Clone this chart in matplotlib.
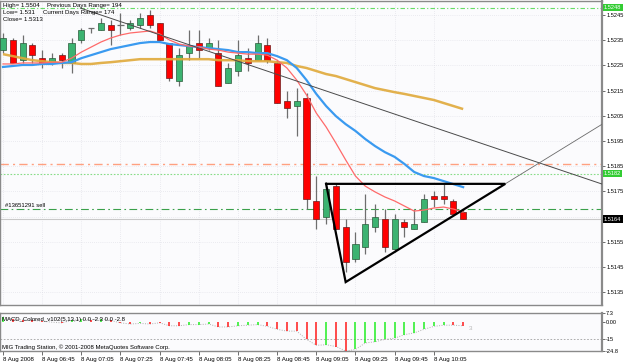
import matplotlib
matplotlib.use('Agg')
import matplotlib.pyplot as plt
import numpy as np

# ---------------- data ----------------
opens  = [1.5231, 1.5235, 1.5227, 1.5233, 1.5228, 1.5226, 1.5229, 1.5226, 1.5235, 1.5240,
          1.5239, 1.5241, 1.5241, 1.5240, 1.5241, 1.5245, 1.5242, 1.5234, 1.5219, 1.5230,
          1.5234, 1.5232, 1.5230, 1.5218, 1.5223, 1.5228, 1.5227, 1.5233, 1.5226, 1.5211,
          1.5209, 1.5212, 1.5171, 1.5165, 1.5177, 1.5161, 1.5148, 1.5153, 1.5161, 1.5164,
          1.5152, 1.5163, 1.5160, 1.5163, 1.5173, 1.5173, 1.5171, 1.5167]
highs  = [1.5238, 1.5236, 1.5237, 1.5234, 1.5231, 1.5230, 1.5230, 1.5236, 1.5240, 1.5240,
          1.5244, 1.5243, 1.5246, 1.5243, 1.5246, 1.5247, 1.5242, 1.5234, 1.5232, 1.5239,
          1.5239, 1.5236, 1.5235, 1.5226, 1.5235, 1.5232, 1.5237, 1.5236, 1.5227, 1.5215,
          1.5216, 1.5214, 1.5181, 1.5178, 1.5178, 1.5164, 1.5159, 1.5174, 1.5170, 1.5168,
          1.5166, 1.5164, 1.5168, 1.5174, 1.5175, 1.5178, 1.5172, 1.5168]
lows   = [1.5230, 1.5226, 1.5226, 1.5226, 1.5224, 1.5225, 1.5224, 1.5222, 1.5234, 1.5238,
          1.5239, 1.5233, 1.5237, 1.5239, 1.5240, 1.5240, 1.5235, 1.5219, 1.5217, 1.5227,
          1.5228, 1.5231, 1.5217, 1.5218, 1.5221, 1.5223, 1.5227, 1.5226, 1.5210, 1.5204,
          1.5197, 1.5168, 1.5160, 1.5162, 1.5160, 1.5143, 1.5147, 1.5150, 1.5159, 1.5151,
          1.5151, 1.5157, 1.5160, 1.5163, 1.5169, 1.5170, 1.5166, 1.5164]
closes = [1.5236, 1.5226, 1.5234, 1.5229, 1.5226, 1.5228, 1.5227, 1.5234, 1.5239, 1.5240,
          1.5242, 1.5239, 1.5241, 1.5242, 1.5244, 1.5241, 1.5235, 1.5220, 1.5229, 1.5233,
          1.5231, 1.5234, 1.5217, 1.5224, 1.5229, 1.5226, 1.5234, 1.5227, 1.5210, 1.5208,
          1.5211, 1.5172, 1.5164, 1.5176, 1.5160, 1.5147, 1.5154, 1.5162, 1.5165, 1.5153,
          1.5164, 1.5161, 1.5162, 1.5172, 1.5172, 1.5172, 1.5166, 1.5164]

ma_fast = [1.52256, 1.52256, 1.52260, 1.52260, 1.52260, 1.52263, 1.52263, 1.52279, 1.52303, 1.52323,
           1.52343, 1.52359, 1.52371, 1.52379, 1.52383, 1.52387, 1.52375, 1.52351, 1.52335, 1.52327,
           1.52323, 1.52315, 1.52311, 1.52303, 1.52299, 1.52295, 1.52295, 1.52291, 1.52271, 1.52240,
           1.52192, 1.52133, 1.52061, 1.52006, 1.51942, 1.51875, 1.51811, 1.51771, 1.51748, 1.51728,
           1.51712, 1.51692, 1.51672, 1.51676, 1.51684, 1.51688, 1.51680, 1.51668]
ma_mid  = [1.52244, 1.52248, 1.52252, 1.52252, 1.52256, 1.52256, 1.52260, 1.52263, 1.52279, 1.52291,
           1.52303, 1.52315, 1.52323, 1.52331, 1.52339, 1.52343, 1.52343, 1.52335, 1.52331, 1.52327,
           1.52323, 1.52319, 1.52315, 1.52311, 1.52303, 1.52303, 1.52299, 1.52299, 1.52287, 1.52271,
           1.52240, 1.52192, 1.52137, 1.52089, 1.52049, 1.52017, 1.51990, 1.51958, 1.51930, 1.51906,
           1.51887, 1.51859, 1.51827, 1.51811, 1.51803, 1.51791, 1.51779, 1.51767]
ma_slow = [1.52295, 1.52287, 1.52279, 1.52271, 1.52267, 1.52263, 1.52260, 1.52260, 1.52256, 1.52256,
           1.52260, 1.52263, 1.52267, 1.52271, 1.52275, 1.52275, 1.52275, 1.52275, 1.52275, 1.52275,
           1.52275, 1.52275, 1.52271, 1.52271, 1.52271, 1.52267, 1.52267, 1.52267, 1.52263, 1.52260,
           1.52248, 1.52240, 1.52228, 1.52216, 1.52208, 1.52196, 1.52184, 1.52172, 1.52160, 1.52152,
           1.52144, 1.52137, 1.52129, 1.52121, 1.52113, 1.52101, 1.52089, 1.52077]

macd_vals = [4.0, 2.0, 1.5, 1.0, 0.5, -0.5, -1.0, 1.0, 2.0, 1.5,
             2.5, 1.0, -1.0, -2.0, -1.5, -2.0, -1.0, -3.5, -3.5, -2.5,
             -2.5, -2.0, -4.5, -4.5, -3.5, -3.0, -2.5, -4.0, -6.5, -8.0,
             -8.0, -15.0, -20.0, -19.5, -21.0, -24.8, -23.5, -18.0, -17.0, -15.0,
             -14.0, -11.0, -9.5, -6.5, -4.0, -3.0, -3.0, -3.5]
macd_up   = [1, 0, 0, 0, 0, 0, 0, 1, 1, 0,
             1, 0, 0, 0, 1, 0, 0, 0, 0, 1,
             1, 1, 0, 0, 1, 1, 1, 0, 0, 0,
             0, 0, 0, 1, 0, 0, 1, 1, 1, 1,
             1, 1, 1, 1, 1, 1, 0, 0]

time_label_bars = [0, 4, 8, 12, 16, 20, 24, 28, 32, 36, 40, 44]
time_labels = ["8 Aug 2008", "8 Aug 06:45", "8 Aug 07:05", "8 Aug 07:25", "8 Aug 07:45",
               "8 Aug 08:05", "8 Aug 08:25", "8 Aug 08:45", "8 Aug 09:05", "8 Aug 09:25",
               "8 Aug 09:45", "8 Aug 10:05"]
price_ticks = [1.5245, 1.5235, 1.5225, 1.5215, 1.5205, 1.5195, 1.5185, 1.5175,
               1.5165, 1.5155, 1.5145, 1.5135]
price_tick_labels = ["1.5245", "1.5235", "1.5225", "1.5215", "1.5205", "1.5195", "1.5185",
                     "1.5175", "", "1.5155", "1.5145", "1.5135"]

level_top = 1.5248
level_salmon = 1.5186
level_green_dot = 1.5182
level_order = 1.5168
level_bid = 1.5164

trend_x = [7.9, 61.2]
trend_y = [1.52478, 1.51779]
tri_x = [33.0, 35.0, 51.3, 33.0]
tri_y = [1.5178, 1.5139, 1.5178, 1.5178]
ext_x = [51.3, 61.2]
ext_y = [1.5178, 1.52017]

macd_ticks = [7.3, 0.0, -15.0, -24.8]
macd_tick_labels = ["7.3", "0.00", "-15", "-24.8"]

# ---------------- layout ----------------
W, H = 625, 363
FONT = 'Liberation Sans'
plt.rcParams['font.family'] = [FONT, 'DejaVu Sans']
LS = 4.1  # axis label size

def rect(x0, y0, x1, y1):
    return [x0 / W, 1 - y1 / H, (x1 - x0) / W, (y1 - y0) / H]

fig = plt.figure(figsize=(W / 100, H / 100), dpi=100, facecolor='white')
ax = fig.add_axes(rect(0, 1, 602, 305))
axm = fig.add_axes(rect(0, 313, 602, 351), sharex=ax)

bg = '#FBFBFD'
for a in (ax, axm):
    a.set_facecolor(bg)
    for s in a.spines.values():
        s.set_color('#8a8a8a')
        s.set_linewidth(1.0)
    a.spines['right'].set_linewidth(1.6)

n = len(opens)
x = np.arange(n)
o = np.array(opens); c = np.array(closes); h = np.array(highs); l = np.array(lows)

ax.set_xlim(-0.306, 61.18)
ax.set_ylim(1.51299, 1.52506)

ax.set_yticks(price_ticks)
ax.set_yticklabels(price_tick_labels)
ax.yaxis.tick_right()
ax.tick_params(axis='y', length=2, width=0.6, color='#555555', pad=1.0, labelsize=LS)
ax.tick_params(axis='x', length=0, labelbottom=False)
ax.set_xticks(time_label_bars)
ax.grid(True, color='#dcdce4', linestyle=(0, (1, 2)), linewidth=0.5)
ax.set_axisbelow(True)

# wicks
ax.vlines(x, l, h, color='#6e6e6e', linewidth=0.9, zorder=2)
# bodies
up = c > o
down = c < o
doji = c == o
bw = 0.62
ax.bar(x[up], (c - o)[up], bottom=o[up], width=bw, color='#3cb371',
       edgecolor='#2a5a3a', linewidth=0.5, zorder=3)
ax.bar(x[down], (o - c)[down], bottom=c[down], width=bw, color='#ff0000',
       edgecolor='#6a1a1a', linewidth=0.5, zorder=3)
ax.hlines(o[doji], x[doji] - bw / 2, x[doji] + bw / 2, color='#6e6e6e', linewidth=0.9, zorder=3)

# moving averages
ax.plot(x, ma_slow, color='#e0a93a', linewidth=1.8, alpha=0.9, zorder=4, solid_capstyle='butt')
ax.plot(x, ma_mid, color='#3a9af0', linewidth=1.6, zorder=4.1)
ax.plot(x, ma_fast, color='#ff6a6a', linewidth=0.9, zorder=4.2)

# horizontal levels
ax.axhline(level_top, color='#66dd66', linewidth=0.8, linestyle=(0, (4, 2, 1, 2)), zorder=1.5)
ax.axhline(level_salmon, color='#ffa080', linewidth=1.0, linestyle=(0, (6, 3, 1.5, 3)), zorder=1.5)
ax.axhline(level_green_dot, color='#88dd88', linewidth=0.8, linestyle=(0, (1.5, 1.5)), zorder=1.5)
ax.axhline(level_order, color='#3aa04a', linewidth=0.8, linestyle=(0, (7, 3, 1.5, 3)), zorder=1.5)
ax.axhline(level_bid, color='#c8c8c8', linewidth=0.8, zorder=1.5)

# trend lines
ax.plot(trend_x, trend_y, color='#4a4a4a', linewidth=0.7, zorder=5)
ax.plot(ext_x, ext_y, color='#6a6a6a', linewidth=0.6, zorder=5)
ax.plot(tri_x, tri_y, color='black', linewidth=1.6, zorder=6, solid_joinstyle='miter')

# right-side price boxes
def price_box(val, fc, tc):
    ax.annotate(f"{val:.4f}", xy=(1.0, val), xycoords=('axes fraction', 'data'),
                xytext=(2, 0), textcoords='offset pixels', ha='left', va='center',
                fontsize=LS, color=tc, annotation_clip=False, zorder=10,
                bbox=dict(boxstyle='square,pad=0.2', fc=fc, ec='none'))

price_box(level_top, '#33cc33', 'white')
price_box(level_green_dot, '#33cc33', 'white')
price_box(level_bid, 'black', 'white')

# info texts
txt_kw = dict(xycoords='axes fraction', textcoords='offset pixels', fontsize=4.4,
              color='black', ha='left', va='center', zorder=11)
ax.annotate("High= 1.5504", xy=(0, 1), xytext=(3, -4), **txt_kw)
ax.annotate("Previous Days Range= 194", xy=(0, 1), xytext=(47, -4), **txt_kw)
ax.annotate("Low= 1.531", xy=(0, 1), xytext=(3, -11.5), **txt_kw)
ax.annotate("Current Days Range= 174", xy=(0, 1), xytext=(43, -11.5), **txt_kw)
ax.annotate("Close= 1.5313", xy=(0, 1), xytext=(3, -18.5), **txt_kw)
ax.annotate("#13651291 sell", xy=(0, level_order), xycoords=('axes fraction', 'data'),
            xytext=(5, 4), textcoords='offset pixels', fontsize=4.2, ha='left',
            va='center', color='black', zorder=11)

# ---------------- MACD panel ----------------
mv = np.array(macd_vals)
mu = np.array(macd_up, dtype=bool)
axm.set_ylim(-24.8, 7.3)
axm.vlines(x[mu], 0, mv[mu], color='#22ee22', linewidth=1.1, zorder=3)
axm.vlines(x[~mu], 0, mv[~mu], color='#ff1a1a', linewidth=1.1, zorder=3)
axm.plot(x, mv, color='#b0b0b0', linewidth=0.7, linestyle=(0, (1, 1.5)), zorder=2)
axm.axhline(-15, color='#a0a0a0', linewidth=0.6, linestyle=(0, (2, 2)), zorder=1)
axm.set_yticks(macd_ticks)
tl = axm.set_yticklabels(macd_tick_labels)
tl[0].set_va('top')
tl[3].set_va('bottom')
axm.yaxis.tick_right()
axm.tick_params(axis='y', length=2, width=0.6, color='#555555', pad=1.0, labelsize=LS)
axm.set_xticks(time_label_bars)
axm.set_xticklabels(time_labels, ha='left')
axm.tick_params(axis='x', length=3, width=0.6, color='#555555', pad=1.5, labelsize=4.4)
for lab in axm.get_xticklabels():
    lab.set_horizontalalignment('left')
axm.text(0.004, 0.82, "MACD_Colored_v102(5,13,1) 0.0 -2.3 0.0 -2.8", transform=axm.transAxes,
         fontsize=4.3, ha='left', va='center', color='black', zorder=10)
axm.text(0.004, 0.1, "MIG Trading Station, \u00a9 2001-2008 MetaQuotes Software Corp.",
         transform=axm.transAxes, fontsize=4.3, ha='left', va='center', color='black', zorder=10)
axm.text(47.8, -6.0, "3", fontsize=4.6, color='#b8b8b8', ha='center', va='center')

fig.savefig('out.png', dpi=100, facecolor='white')
